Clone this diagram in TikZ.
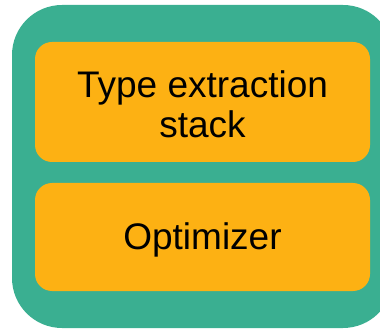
\documentclass[tikz,border=0pt]{standalone}
\usepackage{fontspec}
\setmainfont{Liberation Sans}
\definecolor{panelgreen}{RGB}{58,175,145}
\definecolor{boxorange}{RGB}{253,177,19}
\begin{document}
\begin{tikzpicture}[x=1pt,y=-1pt,
  panel/.style={fill=panelgreen,draw=none,rounded corners=50pt},
  stage/.style={fill=boxorange,draw=none,rounded corners=17pt},
  label/.style={font=\fontsize{37}{40}\selectfont,align=center,text=black,inner sep=0pt}]
  \useasboundingbox (0,0) rectangle (380,331);
  % outer container
  \path[panel] (12,5) rectangle (393,328);
  % stacked stages
  \path[stage] (35,42) rectangle (370,162);
  \path[stage] (35,183) rectangle (370,291);
  \node[label] (extract) at (202.5,104.5) {Type extraction\\stack};
  \node[label] (opt) at (202.5,240) {Optimizer};
\end{tikzpicture}
\end{document}
